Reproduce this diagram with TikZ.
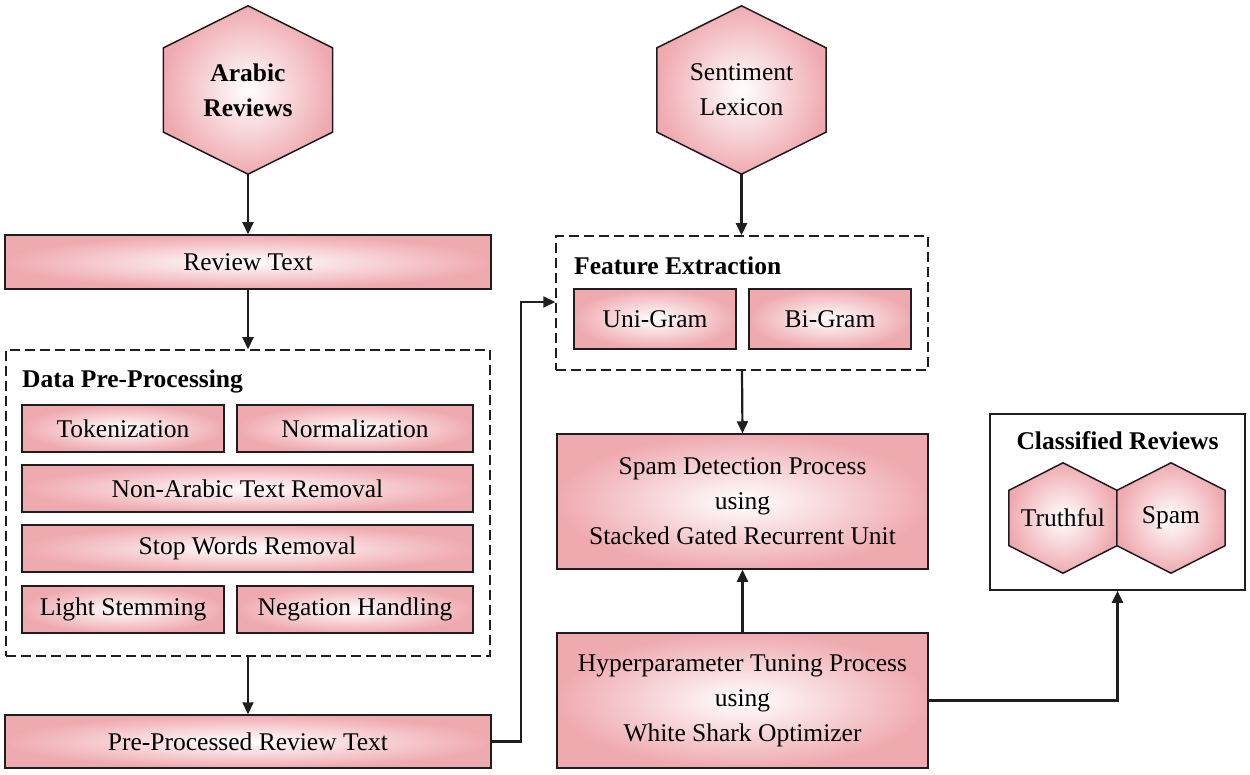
\documentclass[tikz,border=0pt]{standalone}
\usepackage{fontspec}
\setmainfont{Liberation Serif}
\usetikzlibrary{arrows.meta,calc}
\pgfdeclarelayer{background}
\pgfsetlayers{background,main}
\definecolor{pk}{RGB}{239,170,176}
\definecolor{ln}{RGB}{30,30,30}
\newcommand\hexpath[1]{(#1.north) -- ($(#1.north east)!0.25!(#1.south east)$) -- ($(#1.north east)!0.75!(#1.south east)$) -- (#1.south) -- ($(#1.north west)!0.75!(#1.south west)$) -- ($(#1.north west)!0.25!(#1.south west)$) -- cycle}
\tikzset{
  txt/.style={font=\fontsize{25.5}{35}\selectfont, align=center, inner sep=0pt},
  box/.style={txt, draw=ln, line width=1.5pt, inner color=white, outer color=pk},
  dbox/.style={draw=ln, line width=1.5pt, dash pattern=on 10pt off 5pt, inner sep=0pt},
  sbox/.style={draw=ln, line width=1.7pt, inner sep=0pt},
  hexn/.style={txt},
  hexfill/.style={draw=ln, line width=1.5pt, inner color=white, outer color=pk},
  ttl/.style={txt, font=\fontsize{25.5}{35}\selectfont\bfseries},
  arr/.style={draw=ln, line width=2.2pt, -{Triangle[length=12pt,width=11pt]}},
}
\begin{document}
\begin{tikzpicture}[x=1pt,y=-1pt]
\useasboundingbox (0,0) rectangle (1250,775);
% hexagons (top)
\node[hexn, minimum width=169, minimum height=168] (ar) at (248,90) {\bfseries Arabic\\\bfseries Reviews};
\node[hexn, minimum width=169, minimum height=168] (sl) at (741.5,90) {Sentiment\\Lexicon};
% left column
\node[box, minimum width=486, minimum height=54] (rt) at (248,262) {Review Text};
\node[dbox, minimum width=484, minimum height=306] (dp) at (248,503) {};
\node[ttl, anchor=west] (dpt) at (22,381) {Data Pre-Processing};
\node[box, minimum width=202, minimum height=47] (tok) at (123,428.5) {Tokenization};
\node[box, minimum width=236, minimum height=47] (norm) at (355,428.5) {Normalization};
\node[box, minimum width=451, minimum height=47] (nat) at (247.5,488.5) {Non-Arabic Text Removal};
\node[box, minimum width=451, minimum height=47] (sw) at (247.5,548.5) {Stop Words Removal};
\node[box, minimum width=202, minimum height=47] (ls) at (123,609.5) {Light Stemming};
\node[box, minimum width=236, minimum height=47] (nh) at (355,609.5) {Negation Handling};
\node[box, minimum width=486, minimum height=53] (pp) at (248,741.5) {Pre-Processed Review Text};
% middle column
\node[dbox, minimum width=372, minimum height=134] (fe) at (742,303) {};
\node[ttl, anchor=west] (fet) at (574,266) {Feature Extraction};
\node[box, minimum width=162, minimum height=60] (ug) at (655,319) {Uni-Gram};
\node[box, minimum width=162, minimum height=60] (bg) at (830,319) {Bi-Gram};
\node[box, minimum width=371, minimum height=135] (sd) at (742.5,501.5) {Spam Detection Process\\using\\Stacked Gated Recurrent Unit};
\node[box, minimum width=371, minimum height=135] (hp) at (742.5,700.5) {Hyperparameter Tuning Process\\using\\White Shark Optimizer};
% right
\node[sbox, minimum width=255, minimum height=176] (cr) at (1117.5,502) {};
\node[ttl] (crt) at (1117.5,441) {Classified Reviews};
\node[hexn, minimum width=108, minimum height=110] (tr) at (1063,518) {Truthful};
\node[hexn, minimum width=108, minimum height=110] (sp) at (1171,518) {Spam};
\begin{pgfonlayer}{background}
\path[hexfill] \hexpath{ar};
\path[hexfill] \hexpath{sl};
\path[hexfill] \hexpath{tr};
\path[hexfill] \hexpath{sp};
\end{pgfonlayer}
% connectors
\coordinate (j1) at (521,302);
\draw[arr] (ar.south) -- (rt.north);
\draw[arr] (rt.south) -- (dp.north);
\draw[arr] (dp.south) -- (pp.north);
\draw[arr] (pp.east) -| (j1) -- (fe.west |- j1);
\draw[arr] (sl.south) -- (sl.south |- fe.north);
\draw[arr] (fe.south) -- (sd.north);
\draw[arr] (hp.north) -- (sd.south);
\draw[arr] (hp.east) -| (cr.south);
\end{tikzpicture}
\end{document}
